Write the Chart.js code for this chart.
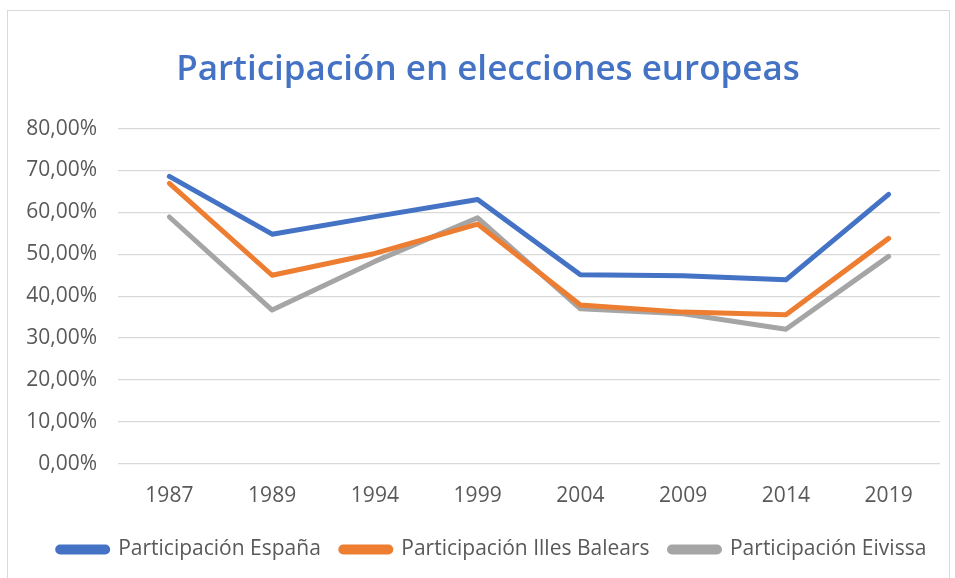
<!DOCTYPE html>
<html>
<head>
<meta charset="utf-8">
<script src="https://cdn.jsdelivr.net/npm/chart.js@4/dist/chart.umd.min.js"></script>
<style>
  html, body { margin: 0; padding: 0; background: #ffffff; }
  body { width: 955px; height: 578px; position: relative; overflow: hidden; }
  #frame {
    position: absolute; left: 7px; top: 10px; width: 941px; height: 580px;
    border: 1px solid #d9d9d9; background: #ffffff;
  }
  #wrap { position: absolute; left: 0; top: 0; width: 941px; height: 567px; }
</style>
</head>
<body>
<div id="frame"><div id="wrap"><canvas id="chart"></canvas></div></div>
<script>
// Election years (European Parliament)
const years = ['1987', '1989', '1994', '1999', '2004', '2009', '2014', '2019'];

// Turnout, percent
const espana   = [68.6, 54.8, 59.0, 63.1, 45.1, 44.9, 43.9, 64.3];
const baleares = [66.9, 45.0, 50.2, 57.2, 37.9, 36.2, 35.6, 53.8];
const eivissa  = [58.9, 36.7, 48.3, 58.7, 37.0, 35.8, 32.1, 49.5];

const seriesNames = ['Participación España', 'Participación Illes Balears', 'Participación Eivissa'];
const seriesColors = ['#4472C4', '#ED7D31', '#A5A5A5'];

const FONT = '"Open Sans", "DejaVu Sans", sans-serif';
const TEXT = '#595959';

function lineSet(label, data, color) {
  return {
    label: label,
    data: data,
    borderColor: color,
    backgroundColor: color,
    borderWidth: 5,
    pointRadius: 0,
    pointHoverRadius: 0,
    tension: 0,
    borderCapStyle: 'round',
    borderJoinStyle: 'round',
    fill: false
  };
}

// Title and legend are centred on the plot rather than on the whole canvas.
const centreOnPlot = {
  id: 'centreOnPlot',
  afterLayout(chart) {
    const shift = (block, dx) => {
      if (!block) return;
      block.left += dx;
      block.right += dx;
    };
    shift(chart.titleBlock, 14);
    shift(chart.legend, 18);
  }
};

new Chart(document.getElementById('chart'), {
  type: 'line',
  data: {
    labels: years,
    datasets: [
      lineSet(seriesNames[0], espana, seriesColors[0]),
      lineSet(seriesNames[1], baleares, seriesColors[1]),
      lineSet(seriesNames[2], eivissa, seriesColors[2])
    ]
  },
  plugins: [centreOnPlot],
  options: {
    responsive: true,
    maintainAspectRatio: false,
    animation: false,
    layout: { padding: { left: 0, right: 9, top: 0, bottom: 8 } },
    plugins: {
      title: {
        display: true,
        text: 'Participación en elecciones europeas',
        color: '#4472C4',
        font: { family: FONT, size: 35, weight: '600' },
        padding: { top: 38, bottom: 37.6 }
      },
      legend: {
        position: 'bottom',
        labels: {
          color: TEXT,
          font: { family: FONT, size: 21 },
          boxWidth: 50,
          boxHeight: 5,
          padding: 20,
          useBorderRadius: true,
          borderRadius: 2.5
        }
      },
      tooltip: { enabled: false }
    },
    scales: {
      x: {
        offset: true,
        grid: { display: false, drawTicks: false },
        border: { display: false },
        // labels stay below the plot; the axis box is kept short so the plot reaches further down
        afterFit: function (scale) { scale.height = scale.height - 10; },
        ticks: {
          color: TEXT,
          font: { family: FONT, size: 21 },
          padding: 20
        }
      },
      y: {
        min: 0,
        max: 80,
        grid: { color: '#d9d9d9', lineWidth: 1.3, drawTicks: false },
        border: { display: false },
        afterFit: function (scale) { scale.width = 110; },
        ticks: {
          stepSize: 10,
          color: TEXT,
          font: { family: FONT, size: 21 },
          padding: 21,
          callback: function (v) {
            return v.toFixed(2).replace('.', ',') + '%';
          }
        }
      }
    }
  }
});
</script>
</body>
</html>
